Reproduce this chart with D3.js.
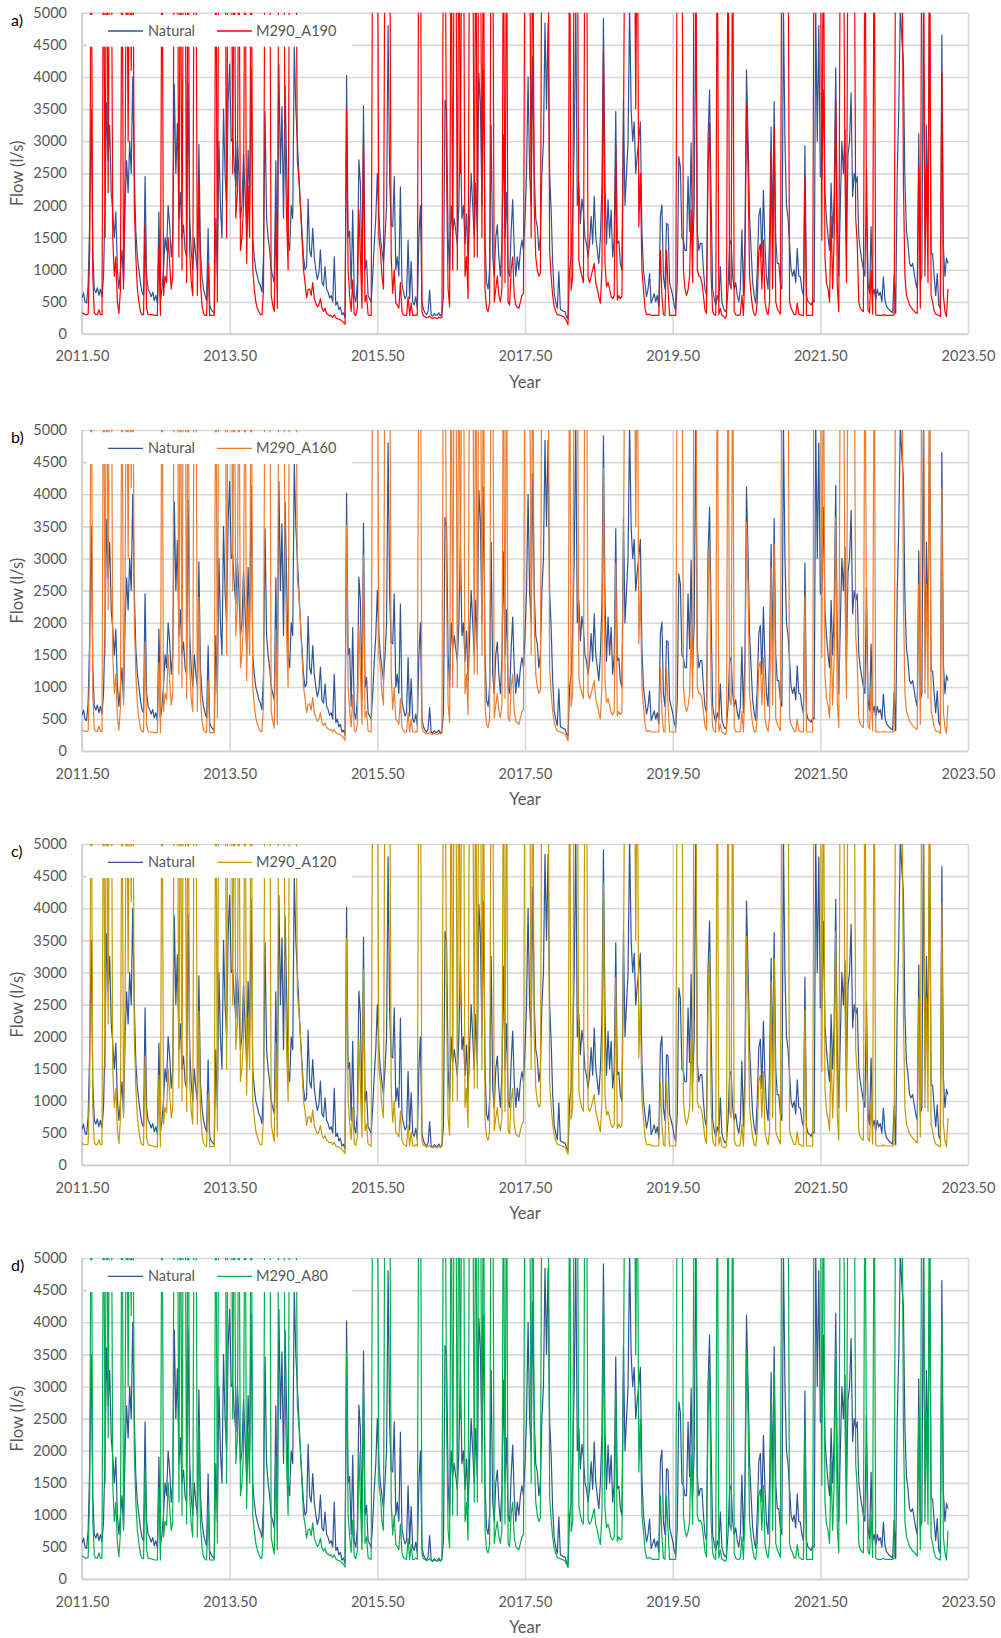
<!DOCTYPE html>
<html>
<head>
<meta charset="utf-8">
<script src="https://cdn.jsdelivr.net/npm/d3@7"></script>
<style>
  body { margin: 0; background: #ffffff; }
  svg { display: block; }
</style>
</head>
<body>
<svg id="chart" width="1001" height="1638"></svg>
<script>
// Flow series sampled every 1/48 of a year, starting mid-2011 (l/s)
const startYear = 2011.5;
const stepYears = 1 / 48;

const xTickValues = [2011.5, 2013.5, 2015.5, 2017.5, 2019.5, 2021.5, 2023.5];
const yTickValues = [0, 500, 1000, 1500, 2000, 2500, 3000, 3500, 4000, 4500, 5000];

const natural = [
  560,640,500,480,760,1750,3500,1300,700,640,720,600,700,580,900,2000,3600,2700,3250,2200,1900,1500,1900,1000,
  700,1000,1300,800,2000,2700,2200,3000,2500,4000,2500,1600,1200,1000,800,650,600,2450,900,700,650,580,650,520,
  600,480,1900,520,700,1000,1500,1300,2000,1700,1200,1500,3880,2500,3280,1800,2200,1500,1700,1300,1200,3900,1800,1300,
  1000,1500,1200,1000,2950,1300,900,700,600,520,1640,450,380,350,320,1800,900,3000,2000,1500,3500,2500,2000,3600,
  4200,3000,3050,2600,2300,3000,2500,1800,2000,2800,2200,1600,2860,2000,4140,1500,1200,1000,900,800,750,650,1200,3460,
  1800,1500,1300,1000,900,800,2700,900,4200,2500,3540,1800,3875,2700,1500,1300,2000,1800,4500,3500,3000,2500,2000,1600,
  1200,1000,1050,2100,1300,1200,1645,1200,1000,850,950,1310,800,750,1050,700,650,560,600,500,1200,450,500,380,
  420,300,330,250,4020,1500,1600,700,1930,600,500,800,2710,2350,800,3550,1000,1150,600,550,500,900,1400,1800,
  2500,1830,1500,1300,1100,1500,2000,4800,2400,1700,1670,2450,1000,1200,900,2290,790,650,550,600,1460,550,1130,500,
  450,580,400,1500,2000,500,380,330,300,350,680,300,280,320,290,300,330,280,320,600,3640,3490,1500,1000,
  2000,1600,1800,1600,1400,2000,3250,1800,2000,1400,1870,1100,1800,2500,2000,1500,2350,1600,4060,3580,2000,4110,1500,800,
  700,1000,3250,1200,900,1500,1700,1200,900,1400,3100,1500,2200,1000,900,1600,2090,1300,900,1200,1000,1300,1460,1300,
  1800,2500,4000,2500,2000,4320,2500,1800,1670,1300,1500,2500,3000,4840,3500,4840,2500,1930,1100,630,500,400,970,380,
  370,350,350,270,230,1000,1200,1900,3000,5100,2000,2350,1720,2100,1900,1500,1400,1200,1410,1830,1400,2140,1515,1300,
  1100,1500,2290,4910,2350,1400,2090,1500,1930,1200,1500,3460,1410,1450,1100,1000,3640,2000,2500,3000,5100,3500,3000,3300,
  2500,2800,3020,3300,1620,1000,790,580,700,940,480,550,630,500,600,425,1830,2010,890,700,1720,1700,800,700,
  600,450,370,800,2760,2600,1500,1460,1300,1300,2450,1600,2970,1300,2000,5200,1620,1300,1410,1410,1000,700,600,3050,
  3800,2090,700,550,450,600,500,1050,500,400,350,380,700,1400,1460,900,700,800,600,500,700,1620,600,1500,
  4110,3070,1830,1300,800,600,480,1000,1830,1960,1200,2240,1400,890,700,1500,3220,1500,3620,1500,1100,1100,800,700,
  5100,3000,2000,1800,1410,1000,900,1000,800,1330,900,890,700,600,2930,600,500,480,450,520,500,5100,3000,4800,
  2450,2450,3800,2190,1800,1515,1300,2350,1500,2200,4140,1800,900,2000,3000,2500,3180,1410,2800,3000,3750,2140,2500,2350,
  2450,1515,1300,1150,1000,900,2550,800,630,1670,600,700,530,700,600,650,500,890,530,430,400,370,350,330,
  920,320,2500,3500,5100,4580,4260,2350,1600,1410,1100,1050,1100,950,800,700,3120,800,900,5100,1500,3250,1800,5100,
  1250,1250,900,600,940,450,400,4650,1360,900,1180,1100
];

const m290A190 = [
  330,320,300,300,310,1300,7000,900,330,300,300,380,300,300,7000,1500,7500,2200,7000,7000,1500,900,1200,500,
  320,700,7000,700,2500,7000,3000,7000,4100,7000,2000,1200,700,500,350,300,300,1700,400,300,300,300,300,290,
  290,290,1360,290,7000,600,900,800,1500,1100,700,900,7000,7000,7000,1200,7000,1000,7000,7000,800,7000,1300,800,
  600,7000,7000,600,2400,800,450,320,290,290,1100,290,290,290,290,7000,500,7000,7000,7000,7000,7000,1500,7000,
  7000,7000,2500,7000,1800,2200,7000,1300,1500,2000,7000,1100,2300,1500,7000,1000,700,500,400,350,300,300,700,7000,
  7000,7000,7000,600,450,350,1900,400,7000,7000,7000,7000,3000,1800,1000,7000,7000,7000,7000,7000,2700,2400,2000,1500,
  1000,800,560,690,700,600,800,550,480,420,450,550,400,350,400,320,300,280,290,260,300,250,240,230,
  220,200,180,150,3490,1000,600,350,840,300,290,400,1930,1200,400,3050,500,600,300,290,290,7000,7000,7000,
  7000,1500,1300,900,700,7000,7000,7000,7000,1200,630,1000,480,450,400,800,350,300,290,290,580,290,480,290,
  290,300,290,7000,7000,350,280,270,250,260,280,250,240,260,250,240,260,250,260,7000,7000,2500,700,425,
  7000,1000,7000,7000,1000,7000,2500,7000,7000,900,1200,550,7000,7000,7000,1200,7000,1200,7000,7000,1500,7000,700,400,
  350,480,7000,7000,500,700,900,600,500,700,7000,800,7000,500,450,1000,1200,600,450,420,400,500,600,630,
  7000,7000,7000,7000,1500,7000,2000,1200,1000,900,950,7000,7000,7000,7000,7000,1300,890,600,425,350,300,300,290,
  280,270,250,200,140,7000,680,900,7000,7000,7000,1150,1000,900,800,7000,7000,890,800,900,1000,1100,800,700,
  580,480,1000,4400,1100,740,800,700,580,550,600,2920,530,600,550,580,3120,7000,7000,7000,7000,7000,7000,7000,
  3500,7000,1670,2500,1000,700,400,300,300,310,290,290,290,290,290,290,1300,600,300,290,1300,700,290,290,
  290,290,290,7000,7000,7000,7000,1000,700,600,685,900,1930,800,7000,7000,1000,900,890,800,600,370,320,2550,
  3280,900,350,300,290,7000,300,400,290,280,245,290,7000,800,700,7000,350,300,290,290,300,600,290,1000,
  3560,2550,900,600,400,300,290,500,1300,1400,700,1460,500,350,300,500,2860,700,3220,500,400,350,310,7000,
  7000,7000,7000,7000,500,400,350,300,300,480,310,300,290,290,2420,290,290,290,290,290,7000,7000,7000,7000,
  7000,1460,7000,1200,800,700,500,1830,700,1500,3640,750,350,7000,7000,7000,2500,800,7000,7000,7000,7000,7000,1800,
  1400,500,400,370,350,7000,1930,370,330,1000,310,7000,300,290,290,290,290,300,290,290,290,290,290,290,
  300,7000,7000,7000,7000,7000,2390,900,600,530,450,420,380,360,330,320,2600,400,7000,7000,900,2600,800,7000,
  600,500,360,310,300,290,270,4080,600,350,270,700
];

const m290A160 = [
  330,320,310,310,320,1300,7000,900,340,310,310,390,310,310,7000,1500,7500,2200,7000,7000,1500,900,1200,520,
  330,700,7000,720,2500,7000,3000,7000,4100,7000,2000,1200,720,520,360,310,300,1700,420,310,300,300,300,290,
  290,290,1380,290,7000,620,900,800,1500,1100,720,900,7000,7000,7000,1200,7000,1000,7000,7000,820,7000,1300,820,
  620,7000,7000,620,2400,820,470,330,300,290,1100,290,290,290,290,7000,520,7000,7000,7000,7000,7000,1500,7000,
  7000,7000,2500,7000,1800,2200,7000,1300,1500,2000,7000,1100,2300,1500,7000,1000,720,520,420,360,310,310,720,7000,
  7000,7000,7000,620,470,360,1900,420,7000,7000,7000,7000,3000,1800,1000,7000,7000,7000,7000,7000,2700,2400,2000,1500,
  1000,820,600,730,740,640,840,600,530,470,500,600,450,400,440,370,350,330,340,300,340,290,280,270,
  260,240,210,170,3520,1000,640,380,880,330,300,420,1950,1200,420,3050,520,620,320,300,300,7000,7000,7000,
  7000,1500,1300,900,720,7000,7000,7000,7000,1200,650,1000,500,470,420,820,370,320,300,300,600,300,500,300,
  300,310,300,7000,7000,370,300,290,270,280,300,270,260,280,270,260,280,270,280,7000,7000,2500,720,450,
  7000,1000,7000,7000,1000,7000,2500,7000,7000,900,1200,570,7000,7000,7000,1200,7000,1200,7000,7000,1500,7000,720,420,
  370,500,7000,7000,520,720,900,620,520,720,7000,820,7000,520,470,1000,1200,620,470,440,420,520,620,650,
  7000,7000,7000,7000,1500,7000,2000,1200,1000,900,950,7000,7000,7000,7000,7000,1300,900,620,450,370,320,310,300,
  290,280,270,220,160,7000,700,900,7000,7000,7000,1150,1000,900,820,7000,7000,900,820,900,1000,1100,820,720,
  600,500,1000,4400,1100,760,820,720,600,570,620,2920,550,620,570,600,3120,7000,7000,7000,7000,7000,7000,7000,
  3500,7000,1670,2500,1000,720,420,310,310,320,300,300,300,300,300,300,1300,620,310,300,1300,720,300,300,
  300,300,300,7000,7000,7000,7000,1000,720,620,700,900,1930,820,7000,7000,1000,900,900,820,620,390,330,2550,
  3280,900,370,310,300,7000,310,420,300,290,260,300,7000,820,720,7000,370,310,300,300,310,620,300,1000,
  3560,2550,900,620,420,310,300,520,1300,1400,720,1460,520,370,310,520,2860,720,3220,520,420,370,320,7000,
  7000,7000,7000,7000,520,420,370,310,310,500,320,310,300,300,2420,300,300,300,300,300,7000,7000,7000,7000,
  7000,1460,7000,1200,820,720,520,1830,720,1500,3640,770,370,7000,7000,7000,2500,820,7000,7000,7000,7000,7000,1800,
  1400,520,420,390,370,7000,1930,390,350,1000,320,7000,310,300,300,300,300,310,300,300,300,300,300,300,
  310,7000,7000,7000,7000,7000,2390,900,620,550,470,440,400,380,350,340,2600,420,7000,7000,900,2600,820,7000,
  620,520,380,320,310,300,280,4080,620,370,280,720
];

const m290A120 = [
  340,330,320,320,330,1300,7000,900,350,320,320,400,320,320,7000,1500,7500,2200,7000,7000,1500,900,1200,540,
  340,720,7000,740,2500,7000,3000,7000,4100,7000,2000,1200,740,540,370,320,310,1700,440,320,310,310,300,290,
  290,290,1400,290,7000,640,900,820,1500,1100,740,900,7000,7000,7000,1200,7000,1000,7000,7000,840,7000,1300,840,
  640,7000,7000,640,2400,840,490,340,310,290,1100,290,290,290,290,7000,540,7000,7000,7000,7000,7000,1500,7000,
  7000,7000,2500,7000,1800,2200,7000,1300,1500,2000,7000,1100,2300,1500,7000,1000,740,540,440,370,320,320,740,7000,
  7000,7000,7000,640,490,370,1900,440,7000,7000,7000,7000,3000,1800,1000,7000,7000,7000,7000,7000,2700,2400,2000,1500,
  1000,840,620,750,760,660,860,620,550,490,520,620,470,420,460,390,370,350,360,320,360,300,290,280,
  270,250,220,180,3530,1000,660,400,900,340,310,440,1960,1200,440,3050,540,640,330,310,300,7000,7000,7000,
  7000,1500,1300,900,740,7000,7000,7000,7000,1200,670,1000,520,490,440,840,390,330,310,300,620,300,520,300,
  300,320,300,7000,7000,380,310,300,280,290,310,280,270,290,280,270,290,280,290,7000,7000,2500,740,470,
  7000,1000,7000,7000,1000,7000,2500,7000,7000,900,1200,590,7000,7000,7000,1200,7000,1200,7000,7000,1500,7000,740,440,
  390,520,7000,7000,540,740,900,640,540,740,7000,840,7000,540,490,1000,1200,640,490,460,440,540,640,670,
  7000,7000,7000,7000,1500,7000,2000,1200,1000,900,950,7000,7000,7000,7000,7000,1300,910,640,470,390,330,320,310,
  300,290,280,230,170,7000,720,900,7000,7000,7000,1150,1000,900,840,7000,7000,910,840,900,1000,1100,840,740,
  620,520,1000,4400,1100,780,840,740,620,590,640,2920,570,640,590,620,3120,7000,7000,7000,7000,7000,7000,7000,
  3500,7000,1670,2500,1000,740,440,320,320,330,310,300,300,300,300,300,1300,640,320,300,1300,740,300,300,
  300,300,300,7000,7000,7000,7000,1000,740,640,720,900,1930,840,7000,7000,1000,900,910,840,640,410,340,2550,
  3280,900,390,320,300,7000,320,440,300,290,270,300,7000,840,740,7000,390,320,300,300,320,640,300,1000,
  3560,2550,900,640,440,320,300,540,1300,1400,740,1460,540,390,320,540,2860,740,3220,540,440,390,330,7000,
  7000,7000,7000,7000,540,440,390,320,320,520,330,320,300,300,2420,300,300,300,300,300,7000,7000,7000,7000,
  7000,1460,7000,1200,840,740,540,1830,740,1500,3640,790,390,7000,7000,7000,2500,840,7000,7000,7000,7000,7000,1800,
  1400,540,440,410,390,7000,1930,410,370,1000,330,7000,320,300,300,300,300,320,300,300,300,300,300,300,
  320,7000,7000,7000,7000,7000,2390,900,640,570,490,460,420,400,370,350,2600,440,7000,7000,900,2600,840,7000,
  640,540,400,330,320,300,290,4080,640,390,290,740
];

const m290A80 = [
  360,350,330,330,340,1300,7000,900,370,330,330,410,330,330,7000,1500,7500,2200,7000,7000,1500,900,1200,560,
  350,740,7000,760,2500,7000,3000,7000,4100,7000,2000,1200,760,560,390,330,320,1700,460,330,320,320,310,300,
  300,300,1420,300,7000,660,900,840,1500,1100,760,900,7000,7000,7000,1200,7000,1000,7000,7000,860,7000,1300,860,
  660,7000,7000,660,2400,860,510,350,320,300,1100,300,300,300,300,7000,560,7000,7000,7000,7000,7000,1500,7000,
  7000,7000,2500,7000,1800,2200,7000,1300,1500,2000,7000,1100,2300,1500,7000,1000,760,560,460,390,330,330,760,7000,
  7000,7000,7000,660,510,390,1900,460,7000,7000,7000,7000,3000,1800,1000,7000,7000,7000,7000,7000,2700,2400,2000,1500,
  1000,860,640,770,780,680,880,640,570,510,540,640,490,440,480,410,390,370,380,340,380,320,300,290,
  280,260,230,190,3550,1000,680,420,920,360,320,460,1980,1200,460,3050,560,660,340,320,310,7000,7000,7000,
  7000,1500,1300,900,760,7000,7000,7000,7000,1200,690,1000,540,510,460,860,410,340,320,310,640,310,540,310,
  310,330,310,7000,7000,390,320,310,290,300,320,290,280,300,290,280,300,290,300,7000,7000,2500,760,490,
  7000,1000,7000,7000,1000,7000,2500,7000,7000,900,1200,610,7000,7000,7000,1200,7000,1200,7000,7000,1500,7000,760,460,
  410,540,7000,7000,560,760,900,660,560,760,7000,860,7000,560,510,1000,1200,660,510,480,460,560,660,690,
  7000,7000,7000,7000,1500,7000,2000,1200,1000,900,950,7000,7000,7000,7000,7000,1300,920,660,490,410,340,330,320,
  310,300,290,240,180,7000,740,900,7000,7000,7000,1150,1000,900,860,7000,7000,920,860,900,1000,1100,860,760,
  640,540,1000,4400,1100,800,860,760,640,610,660,2920,590,660,610,640,3120,7000,7000,7000,7000,7000,7000,7000,
  3500,7000,1670,2500,1000,760,460,330,330,340,320,310,310,310,310,310,1300,660,330,310,1300,760,310,310,
  310,310,310,7000,7000,7000,7000,1000,760,660,740,900,1930,860,7000,7000,1000,900,920,860,660,430,350,2550,
  3280,900,410,330,310,7000,330,460,310,300,280,310,7000,860,760,7000,410,330,310,310,330,660,310,1000,
  3560,2550,900,660,460,330,310,560,1300,1400,760,1460,560,410,330,560,2860,760,3220,560,460,410,340,7000,
  7000,7000,7000,7000,560,460,410,330,330,540,340,330,310,310,2420,310,310,310,310,310,7000,7000,7000,7000,
  7000,1460,7000,1200,860,760,560,1830,760,1500,3640,810,410,7000,7000,7000,2500,860,7000,7000,7000,7000,7000,1800,
  1400,560,460,430,410,7000,1930,430,390,1000,340,7000,330,310,310,310,310,330,310,310,310,310,310,310,
  330,7000,7000,7000,7000,7000,2390,900,660,590,510,480,440,420,390,360,2600,460,7000,7000,900,2600,860,7000,
  660,560,420,340,330,310,300,4080,660,410,300,760
];

const panels = [
  { tag: "a)", label: "M290_A190", values: m290A190, color: "#FF0000", top: 12.7 },
  { tag: "b)", label: "M290_A160", values: m290A160, color: "#ED7D31", top: 430 },
  { tag: "c)", label: "M290_A120", values: m290A120, color: "#C49A00", top: 844 },
  { tag: "d)", label: "M290_A80",  values: m290A80,  color: "#00B050", top: 1258 }
];

const left = 82, right = 968, plotH = 321.3;
const fontFamily = "Lato, 'Open Sans', 'DejaVu Sans', sans-serif";
const gridColor = "#d9d9d9";
const textColor = "#595959";
const naturalColor = "#2F5597";

const svg = d3.select("#chart");
const x = d3.scaleLinear().domain([2011.5, 2023.5]).range([left, right]);
const timeOf = i => startYear + i * stepYears;

panels.forEach((p, k) => {
  const bottom = p.top + plotH;
  const y = d3.scaleLinear().domain([0, 5000]).range([bottom, p.top]);
  const g = svg.append("g");

  // horizontal gridlines and flow labels
  const yAxis = g.append("g")
    .attr("transform", `translate(${left},0)`)
    .call(d3.axisLeft(y).tickValues(yTickValues).tickSize(-(right - left))
      .tickPadding(15).tickFormat(d3.format("d")));
  yAxis.select(".domain").remove();
  yAxis.selectAll("line").attr("stroke", gridColor).attr("stroke-width", 1.6);
  yAxis.selectAll("text")
    .attr("fill", textColor)
    .style("font-family", fontFamily).style("font-size", "14.5px");

  // vertical gridlines and year labels
  const xAxis = g.append("g")
    .attr("transform", `translate(0,${bottom})`)
    .call(d3.axisBottom(x).tickValues(xTickValues).tickSize(-plotH)
      .tickPadding(17).tickFormat(d3.format(".2f")));
  xAxis.select(".domain").remove();
  xAxis.selectAll("line").attr("stroke", gridColor).attr("stroke-width", 1.6);
  xAxis.selectAll("text")
    .attr("fill", textColor)
    .style("font-family", fontFamily).style("font-size", "14.5px");

  // axis lines
  g.append("line").attr("x1", left).attr("x2", left).attr("y1", p.top).attr("y2", bottom)
    .attr("stroke", "#cfcfcf").attr("stroke-width", 1.6);
  g.append("line").attr("x1", left).attr("x2", right).attr("y1", bottom).attr("y2", bottom)
    .attr("stroke", "#cfcfcf").attr("stroke-width", 1.6);

  // plot-area clip
  const clipId = `plot-clip-${k}`;
  svg.append("clipPath").attr("id", clipId)
    .append("rect").attr("x", left).attr("y", p.top)
    .attr("width", right - left).attr("height", plotH);

  const line = d3.line()
    .x((d, i) => x(timeOf(i)))
    .y(d => y(d));

  const series = g.append("g").attr("clip-path", `url(#${clipId})`);
  series.append("path").datum(natural)
    .attr("d", line).attr("fill", "none")
    .attr("stroke", naturalColor).attr("stroke-width", 1.2)
    .attr("stroke-linejoin", "round");
  series.append("path").datum(p.values)
    .attr("d", line).attr("fill", "none")
    .attr("stroke", p.color).attr("stroke-width", 1.2)
    .attr("stroke-linejoin", "round");

  // legend
  const lg = g.append("g");
  lg.append("rect").attr("x", 87).attr("y", p.top + 2.3)
    .attr("width", 265).attr("height", 31.7).attr("fill", "#ffffff");
  const ly = p.top + 18.3;
  lg.append("line").attr("x1", 108).attr("x2", 143).attr("y1", ly).attr("y2", ly)
    .attr("stroke", naturalColor).attr("stroke-width", 1.3);
  lg.append("text").attr("x", 148).attr("y", ly).attr("dy", "0.35em")
    .attr("fill", textColor).style("font-family", fontFamily).style("font-size", "14.5px")
    .text("Natural");
  lg.append("line").attr("x1", 217).attr("x2", 252).attr("y1", ly).attr("y2", ly)
    .attr("stroke", p.color).attr("stroke-width", 1.3);
  lg.append("text").attr("x", 256).attr("y", ly).attr("dy", "0.35em")
    .attr("fill", textColor).style("font-family", fontFamily).style("font-size", "14.5px")
    .text(p.label);

  // panel tag
  g.append("text").attr("x", 11).attr("y", p.top + 13)
    .attr("fill", "#000000").style("font-family", fontFamily).style("font-size", "16px")
    .text(p.tag);

  // axis titles
  g.append("text")
    .attr("transform", `translate(23,${p.top + plotH / 2}) rotate(-90)`)
    .attr("text-anchor", "middle")
    .attr("fill", textColor).style("font-family", fontFamily).style("font-size", "16.5px")
    .text("Flow (l/s)");
  g.append("text")
    .attr("x", (left + right) / 2).attr("y", bottom + 54)
    .attr("text-anchor", "middle")
    .attr("fill", textColor).style("font-family", fontFamily).style("font-size", "16.5px")
    .text("Year");
});
</script>
</body>
</html>
